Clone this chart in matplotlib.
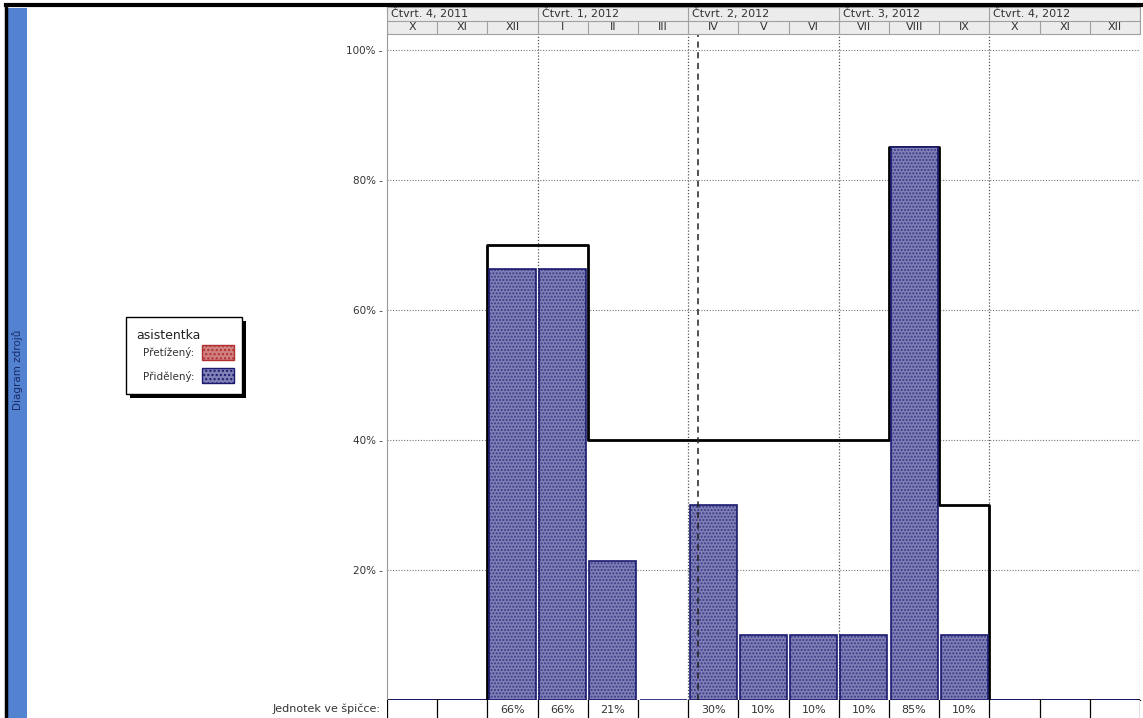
import matplotlib.pyplot as plt
import matplotlib.patches as mpatches
import numpy as np

# data
months = ['X', 'XI', 'XII', 'I', 'II', 'III', 'IV', 'V', 'VI', 'VII', 'VIII', 'IX', 'X', 'XI', 'XII']
quarters = ['Čtvrt. 4, 2011', 'Čtvrt. 1, 2012', 'Čtvrt. 2, 2012', 'Čtvrt. 3, 2012', 'Čtvrt. 4, 2012']
allocated = [0, 0, 66.3, 66.3, 21.4, 0, 30, 10, 10, 10, 85, 10, 0, 0, 0]
available = [0, 0, 70, 70, 40, 40, 40, 40, 40, 40, 85, 30, 0, 0, 0]
peak_labels = ['', '', '66%', '66%', '21%', '', '30%', '10%', '10%', '10%', '85%', '10%', '', '', '']
yticks = [20, 40, 60, 80, 100]
today = 6.2

W, H = 1143, 718
fig = plt.figure(figsize=(W / 100, H / 100), dpi=100)
plt.rcParams['font.family'] = ['DejaVu Sans']


def box(x0, y0, x1, y1):
    # pixel box (top-left origin) -> figure fraction rect
    return [x0 / W, 1 - y1 / H, (x1 - x0) / W, (y1 - y0) / H]


navy = '#1a1a6e'
bar_face = '#8080b6'
fs = 8

# main plot
ax = fig.add_axes(box(387, 35, 1140, 700))
ax.set_xlim(0, 15)
ax.set_ylim(0, 102.3)
for y in yticks:
    ax.axhline(y, color='#777777', lw=0.8, ls=(0, (1, 1.5)), zorder=1)
for q in range(3, 16, 3):
    ax.axvline(q, color='#555555', lw=0.9, ls=(0, (1, 1.5)), zorder=1)
ax.axvline(today, color='#222222', lw=1.1, ls=(0, (4, 3)), zorder=5)

edges = np.arange(16)
ax.step(edges, available + [available[-1]], where='post', color='black', lw=2, zorder=2)

xc = np.arange(15) + 0.5
h = np.array(allocated)
ax.bar(xc, h, width=0.94, color=bar_face, edgecolor='none', zorder=3)
ax.bar(xc, h, width=0.94, fill=False, hatch='.....', edgecolor='#3a3a88', lw=0, zorder=3)
ax.bar(xc, h, width=0.94, fill=False, edgecolor=navy, lw=1.2, zorder=4)

ax.set_xticks([])
ax.set_yticks(yticks)
ax.set_yticklabels([f'{y}% -' for y in yticks], fontsize=7.5, color='#333333')
ax.tick_params(axis='y', length=0, pad=3)
for s in ['top', 'right']:
    ax.spines[s].set_visible(False)
ax.spines['left'].set_color('#999999')
ax.spines['bottom'].set_color('black')

# header
hd = fig.add_axes(box(387, 7, 1140, 34))
hd.set_xlim(0, 15)
hd.set_ylim(0, 2)
hd.set_facecolor('#ececec')
hd.axhline(1, color='#a0a0a0', lw=0.8)
for i in range(16):
    hd.plot([i, i], [0, 1], color='#a0a0a0', lw=0.8)
for q in range(0, 16, 3):
    hd.plot([q, q], [1, 2], color='#a0a0a0', lw=0.8)
for i, m in enumerate(months):
    hd.text(i + 0.5, 0.5, m, ha='center', va='center', fontsize=fs, color='#333333')
for k, q in enumerate(quarters):
    hd.text(k * 3 + 0.08, 1.5, q, ha='left', va='center', fontsize=fs, color='#333333')
hd.set_xticks([])
hd.set_yticks([])
for s in hd.spines.values():
    s.set_color('#a0a0a0')
    s.set_linewidth(0.8)

# peak units table
tb = fig.add_axes(box(387, 700, 1140, 718))
tb.set_xlim(0, 15)
tb.set_ylim(0, 1)
for i in range(16):
    tb.plot([i, i], [0, 1], color='black', lw=0.9)
for i, t in enumerate(peak_labels):
    tb.text(i + 0.5, 0.45, t, ha='center', va='center', fontsize=fs, color='#333333')
tb.set_xticks([])
tb.set_yticks([])
for s in tb.spines.values():
    s.set_visible(False)
fig.text(381 / W, 1 - 709 / H, 'Jednotek ve špičce:', ha='right', va='center', fontsize=fs, color='#333333')

# left strip and frame
fig.patches.append(mpatches.Rectangle((8 / W, 0), 19 / W, 1 - 8 / H, transform=fig.transFigure,
                                      facecolor='#5282d0', edgecolor='none'))
fig.text(18 / W, 1 - 370 / H, 'Diagram zdrojů', rotation=90, ha='center', va='center',
         fontsize=7.5, color='#1a2a6a')
fig.add_artist(plt.Line2D([6 / W, 6 / W], [0, 1 - 5 / H], color='black', lw=2.5))
fig.add_artist(plt.Line2D([6 / W, 1], [1 - 5 / H, 1 - 5 / H], color='black', lw=3))

# legend box
fig.patches.append(mpatches.Rectangle((130 / W, 1 - 398 / H), 116 / W, 77 / H, transform=fig.transFigure,
                                      facecolor='black', edgecolor='none'))
fig.patches.append(mpatches.Rectangle((126 / W, 1 - 394 / H), 116 / W, 77 / H, transform=fig.transFigure,
                                      facecolor='white', edgecolor='black', lw=1))
fig.text(136 / W, 1 - 335 / H, 'asistentka', ha='left', va='center', fontsize=9, color='#222222')
fig.text(194 / W, 1 - 353 / H, 'Přetížený:', ha='right', va='center', fontsize=7.5, color='#333333')
fig.text(194 / W, 1 - 376 / H, 'Přidělený:', ha='right', va='center', fontsize=7.5, color='#333333')
fig.patches.append(mpatches.Rectangle((202 / W, 1 - 360 / H), 32 / W, 15 / H, transform=fig.transFigure,
                                      facecolor='#d08080', edgecolor='#b03030', lw=1, hatch='....'))
fig.patches.append(mpatches.Rectangle((202 / W, 1 - 383 / H), 32 / W, 15 / H, transform=fig.transFigure,
                                      facecolor=bar_face, edgecolor=navy, lw=1, hatch='....'))

fig.savefig('out.png', dpi=100)
